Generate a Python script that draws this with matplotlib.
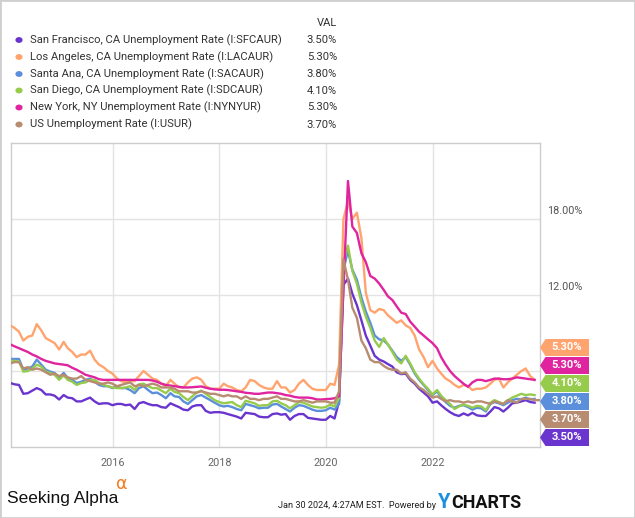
import matplotlib
matplotlib.use('Agg')
import matplotlib.pyplot as plt
from matplotlib.patches import Polygon, Circle, Rectangle
import pandas as pd

W, H = 635, 518
plt.rcParams['font.family'] = ['Roboto', 'DejaVu Sans']

names = [
    "San Francisco, CA Unemployment Rate (I:SFCAUR)",
    "Los Angeles, CA Unemployment Rate (I:LACAUR)",
    "Santa Ana, CA Unemployment Rate (I:SACAUR)",
    "San Diego, CA Unemployment Rate (I:SDCAUR)",
    "New York, NY Unemployment Rate (I:NYNYUR)",
    "US Unemployment Rate (I:USUR)",
]
colors = ["#6a35cf", "#ffa46e", "#5b8fdc", "#97cb4c", "#e0249f", "#b88c70"]

sf = [5.05, 4.95, 4.9, 4.2, 4.25, 4.45, 4.65, 4.5, 4.15, 4.15,
      4.05, 3.75, 4.1, 3.9, 3.85, 3.6, 3.6, 3.75, 3.9, 3.6,
      3.4, 3.45, 3.45, 3.3, 3.4, 3.4, 3.3, 3.35, 3.0, 3.45,
      3.55, 3.4, 3.3, 3.3, 3.15, 3.1, 3.45, 3.3,
      3.15, 2.95, 2.9, 3.2, 3.3, 3.3, 2.85, 2.7, 2.75, 2.75,
      2.7, 2.6, 2.5, 2.4, 2.25, 2.7, 2.65, 2.6, 2.4, 2.35,
      2.35, 2.6, 2.65, 2.55, 2.6, 2.15, 2.45, 2.6, 2.6, 2.3,
      2.25, 2.2, 2.15, 2.15, 2.45, 2.25,
      3.6, 12.8, 13.3, 12.1, 11.2, 10.0,
      8.8, 8.0, 7.2, 6.9, 6.75, 6.55, 6.35, 5.9, 5.75, 5.8,
      5.3, 5.0, 4.6, 4.3, 4.0, 3.5, 3.6, 3.3, 3.0, 2.75,
      2.55, 2.45, 2.65, 2.5, 2.7, 2.5, 2.45, 2.45, 2.8, 3.15,
      3.05, 2.8, 3.1, 3.45, 3.5, 3.6, 3.7, 3.55, 3.5]

la = [9.6, 9.4, 9.1, 8.4, 8.7, 8.8, 9.7, 9.2, 8.6, 8.4,
      8.2, 7.7, 8.3, 7.8, 7.5, 7.1, 7.3, 7.3, 7.6, 6.9,
      6.5, 6.3, 6.0, 5.8, 5.4, 5.2, 5.1, 5.2, 5.2, 5.6,
      6.0, 5.7, 5.4, 5.3, 5.0, 4.8, 5.3, 5.0, 4.7, 4.7,
      5.1, 5.4, 5.5, 5.3, 4.8, 4.6, 4.6, 4.6, 5.0, 4.8,
      4.7, 4.5, 4.4, 4.7, 5.3, 5.2, 4.9, 4.7, 4.6, 4.6,
      5.2, 4.7, 4.7, 4.3, 4.5, 5.0, 5.3, 4.9, 4.6, 4.5,
      4.5, 4.5, 5.0, 4.9, 6.5, 18.0, 19.4, 18.0, 18.5, 16.5,
      12.2, 10.8, 10.6, 10.9, 10.8, 10.4, 10.1, 9.8, 10.0, 9.6,
      9.4, 8.8, 7.7, 7.1, 6.3, 6.8, 6.2, 5.8, 5.4, 5.2,
      4.9, 4.7, 4.9, 4.8, 4.5, 4.6, 4.6, 4.7, 5.0, 5.3,
      5.4, 4.7, 5.1, 5.4, 5.7, 6.0, 6.2, 5.6, 5.3]

sa = [6.95, 6.95, 6.95, 6.1, 6.2, 6.35, 6.9, 6.5, 6.1, 5.95,
      5.85, 5.45, 5.85, 5.45, 5.3, 5.05, 5.15, 5.3, 5.4, 5.15,
      4.9, 4.8, 4.8, 4.65, 4.8, 4.65, 4.65, 4.5, 4.25, 4.65,
      4.8, 4.5, 4.25, 4.3, 4.1, 3.85, 4.25, 4.0,
      3.95, 3.6, 3.4, 3.7, 4.0, 4.1, 3.9, 3.7, 3.5, 3.3,
      3.2, 3.25, 3.15, 3.0, 2.9, 3.4, 3.3, 3.2, 3.05, 3.1,
      3.1, 3.35, 3.4, 3.2, 3.0, 2.8, 3.1, 3.3, 3.25, 3.1,
      2.95, 2.85, 2.85, 2.9, 3.1, 2.95,
      3.4, 14.0, 15.5, 14.0, 13.2, 11.8,
      10.7, 9.8, 8.8, 8.5, 8.4, 8.1, 7.6, 7.1, 6.8, 7.1,
      6.5, 5.8, 5.3, 4.9, 4.5, 4.1, 4.4, 3.9, 3.55, 3.25,
      3.1, 3.25, 3.3, 3.15, 2.95, 3.1, 3.05, 2.8, 3.4, 3.55,
      3.45, 3.3, 3.5, 3.7, 3.8, 3.75, 3.9, 3.75, 3.8]

sd = [6.8, 6.8, 6.75, 5.95, 6.0, 6.2, 6.5, 6.35, 5.95, 5.85,
      5.7, 5.3, 5.65, 5.3, 5.15, 4.9, 5.05, 5.1, 5.3, 5.3,
      5.05, 4.9, 4.8, 4.7, 4.65, 4.65, 4.7, 4.8, 4.5, 4.95,
      5.0, 4.8, 4.65, 4.65, 4.45, 4.25, 4.6, 4.35,
      4.25, 3.95, 3.7, 4.0, 4.3, 4.45, 4.2, 3.95, 3.7, 3.55,
      3.45, 3.5, 3.55, 3.3, 3.15, 3.65, 3.55, 3.45, 3.25, 3.3,
      3.3, 3.6, 3.65, 3.45, 3.3, 3.05, 3.3, 3.55, 3.5, 3.35,
      3.2, 3.15, 3.1, 3.15, 3.35, 3.2,
      3.9, 14.6, 15.9, 13.9, 12.9, 11.4,
      10.3, 9.4, 8.4, 7.9, 8.6, 8.1, 7.5, 6.9, 6.6, 7.2,
      6.6, 5.9, 5.4, 4.95, 4.6, 4.15, 4.5, 4.05, 3.7, 3.4,
      3.0, 3.2, 3.35, 3.25, 3.1, 3.25, 3.2, 2.9, 3.5, 3.7,
      3.55, 3.4, 3.7, 3.9, 4.05, 4.2, 4.1, 4.15, 4.1]

ny = [8.1, 7.95, 7.8, 7.65, 7.5, 7.3, 7.15, 6.95, 6.8, 6.7,
      6.6, 6.55, 6.5, 6.45, 6.25, 6.1, 5.9, 5.7, 5.6, 5.5,
      5.35, 5.3, 5.3, 5.3, 5.3, 5.3, 5.3, 5.3, 5.3, 5.3,
      5.3, 5.3, 5.25, 5.15, 5.0, 4.9, 4.85, 4.8, 4.75, 4.7,
      4.7, 4.72, 4.75, 4.78, 4.68, 4.6, 4.55, 4.52, 4.52, 4.5,
      4.45, 4.4, 4.35, 4.28, 4.25, 4.2, 4.2, 4.25, 4.3, 4.3,
      4.25, 4.2, 4.1, 4.05, 3.95, 3.9, 3.9, 3.9, 3.85, 3.75,
      3.75, 3.78, 3.8, 3.85, 4.0, 12.5, 21.0, 17.4, 16.9, 15.3,
      14.6, 13.5, 13.3, 12.9, 12.4, 11.9, 11.6, 11.1, 10.6, 10.5,
      9.9, 9.5, 9.1, 8.8, 8.5, 8.2, 7.8, 7.1, 6.5, 6.0,
      5.6, 5.3, 5.0, 4.75, 5.1, 5.3, 5.3, 5.2, 5.3, 5.4,
      5.4, 5.35, 5.35, 5.4, 5.5, 5.45, 5.4, 5.35, 5.3]

us = [6.6, 6.7, 6.7, 6.2, 6.3, 6.1, 6.2, 6.1, 5.9, 5.7, 5.8, 5.6,
      5.7, 5.5, 5.4, 5.4, 5.6, 5.3, 5.2, 5.1, 5.0, 5.0, 5.1, 5.0,
      4.8, 4.9, 5.0, 5.1, 4.8, 4.9, 4.8, 4.9, 5.0, 4.9, 4.7, 4.7,
      4.7, 4.6, 4.4, 4.4, 4.4, 4.3, 4.3, 4.4, 4.3, 4.2, 4.2, 4.1,
      4.0, 4.1, 4.0, 4.0, 3.8, 4.0, 3.8, 3.8, 3.7, 3.8, 3.8, 3.9,
      4.0, 3.8, 3.8, 3.7, 3.6, 3.6, 3.7, 3.6, 3.5, 3.6, 3.6, 3.6,
      3.5, 3.5, 4.4, 14.8, 13.2, 11.0, 10.2, 8.4, 7.8, 6.9, 6.7, 6.7,
      6.4, 6.2, 6.1, 6.1, 5.8, 5.9, 5.4, 5.1, 4.7, 4.5, 4.2, 3.9,
      4.0, 3.8, 3.6, 3.7, 3.6, 3.6, 3.5, 3.6, 3.5, 3.6, 3.6, 3.5,
      3.4, 3.6, 3.5, 3.4, 3.7, 3.6, 3.5, 3.8, 3.8, 3.8, 3.7, 3.7]

series = [sf, la, sa, sd, ny, us]
start_date = "2014-01-31"
x_tick_years = [2016, 2018, 2020, 2022]
y_grid = [6, 12, 18]
y_labeled = [12, 18]

def fx(x):
    return x / W

def fy(y):
    return 1 - y / H

fig = plt.figure(figsize=(W / 100, H / 100), dpi=100)
fig.patch.set_facecolor("white")

ax = fig.add_axes([fx(10.5), fy(447), fx(540) - fx(10.5), fy(143) - fy(447)])
for vals, col in zip(series, colors):
    d = pd.date_range(start_date, periods=len(vals), freq="ME")
    ax.plot(d, vals, color=col, lw=1.7, solid_joinstyle="round", zorder=3)

ax.set_xlim(pd.Timestamp("2014-02-01"), pd.Timestamp("2024-01-06"))
ax.set_ylim(0, 24)
ax.set_xticks([pd.Timestamp(f"{y}-01-01") for y in x_tick_years])
ax.set_xticklabels([str(y) for y in x_tick_years], fontsize=7.8, color="#666666")
ax.set_yticks(y_grid)
ax.set_yticklabels([])
ax.tick_params(axis="both", length=0)
ax.tick_params(axis="x", pad=8)
ax.grid(True, color="#e3e3e3", lw=1.0, zorder=0)
for s in ax.spines.values():
    s.set_color("#cccccc")
    s.set_linewidth(1.0)

for v in y_labeled:
    ax.annotate(f"{v:.2f}%", xy=(1.0, v), xycoords=("axes fraction", "data"),
                xytext=(5, 5.5), textcoords="offset points", fontsize=7.8,
                color="#555555", ha="left", va="center")

# legend header
fig.text(fx(337), fy(23), "VAL", fontsize=8, color="#333333", ha="right", va="center")
row_y = [40, 57, 74, 90.5, 107.5, 124.5]
for name, col, vals, yy in zip(names, colors, series, row_y):
    fig.patches.append(Circle((fx(19), fy(yy)), 3.6 / W, transform=fig.transFigure,
                              facecolor=col, edgecolor="none"))
    fig.text(fx(29.5), fy(yy), name, fontsize=8.1, color="#333333", ha="left", va="center")
    fig.text(fx(337), fy(yy), f"{vals[-1]:.2f}%", fontsize=8.1, color="#333333",
             ha="right", va="center")

# value flags on the right
order = sorted(range(len(series)), key=lambda k: -series[k][-1])
flag_centers = [347.5, 365.5, 383.5, 401.5, 419.5, 437.5]
for k, cy in zip(order, flag_centers):
    pts = [(540, cy), (545.5, cy - 8.5), (589, cy - 8.5), (589, cy + 8.5), (545.5, cy + 8.5)]
    fig.patches.append(Polygon([(fx(a), fy(b)) for a, b in pts], closed=True,
                               transform=fig.transFigure, facecolor=colors[k],
                               edgecolor="none"))
    fig.text(fx(567), fy(cy), f"{series[k][-1]:.2f}%", fontsize=8, color="white",
             fontweight="bold", ha="center", va="center")

# footer
fig.text(fx(7), fy(498), "Seeking Alpha", fontsize=12.5, color="#111111",
         family=["Liberation Sans", "DejaVu Sans"], ha="left", va="center")
fig.text(fx(116), fy(484), "α", fontsize=12.5, color="#f47b20",
         family=["DejaVu Sans"], ha="left", va="center")
fig.text(fx(436), fy(505), "Jan 30 2024, 4:27AM EST.  Powered by", fontsize=6.6,
         color="#222222", family=["Roboto", "DejaVu Sans"],
         ha="right", va="center")
fig.text(fx(438), fy(503), "Y", fontsize=14.5, color="#1b90e0", fontweight="bold",
         ha="left", va="center")
fig.text(fx(451), fy(503), "CHARTS", fontsize=13, color="#111111", fontweight="bold",
         ha="left", va="center")

# outer frame
fig.patches.append(Rectangle((0, 0), 1, 1, transform=fig.transFigure, fill=False,
                             edgecolor="#cfcfcf", lw=2))

fig.savefig("out.png", dpi=100, facecolor="white")
